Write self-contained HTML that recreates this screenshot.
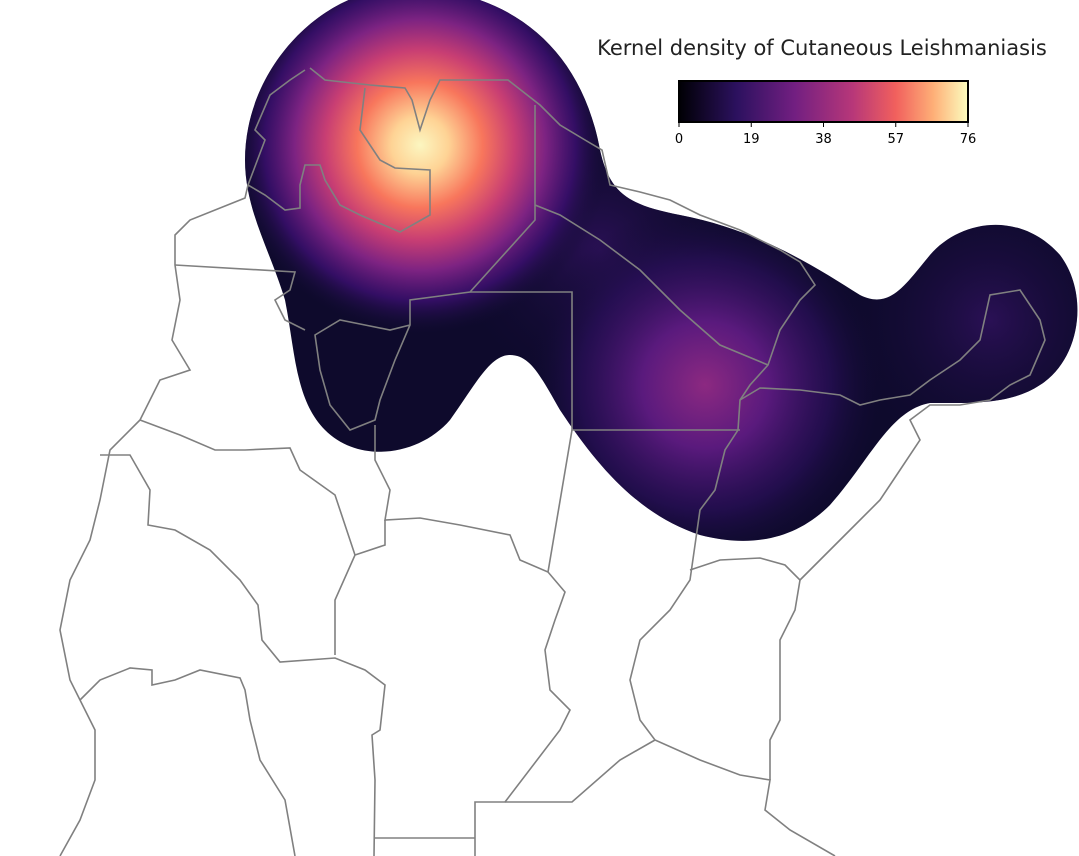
<!DOCTYPE html>
<html><head><meta charset="utf-8"><style>
html,body{margin:0;padding:0;background:#fff;}
svg{display:block;font-family:"DejaVu Sans","Liberation Sans",sans-serif;}
</style></head><body>
<svg id="map" width="1079" height="856" viewBox="0 0 1079 856" xmlns="http://www.w3.org/2000/svg">
<defs>
<linearGradient id="magma" x1="0" x2="1" y1="0" y2="0">
<stop offset="0" stop-color="#000004"/><stop offset="0.2" stop-color="#2c115f"/><stop offset="0.4" stop-color="#721f81"/><stop offset="0.6" stop-color="#b73779"/><stop offset="0.75" stop-color="#f1605d"/><stop offset="0.88" stop-color="#feaf77"/><stop offset="1" stop-color="#fcfdbf"/>
</linearGradient>
<radialGradient id="hot1" cx="0.5" cy="0.5" r="0.5">
<stop offset="0" stop-color="#fcf6c0"/><stop offset="0.15" stop-color="#fed395"/><stop offset="0.33" stop-color="#f8765c"/><stop offset="0.5" stop-color="#c83e73"/><stop offset="0.66" stop-color="#7d2382"/><stop offset="0.82" stop-color="#3a0f6e" stop-opacity="0.85"/><stop offset="1" stop-color="#120d32" stop-opacity="0"/>
</radialGradient>
<radialGradient id="hot2" cx="0.5" cy="0.5" r="0.5">
<stop offset="0" stop-color="#8c2981"/><stop offset="0.35" stop-color="#5a1a7d"/><stop offset="0.7" stop-color="#2a0f5a" stop-opacity="0.7"/><stop offset="1" stop-color="#100b30" stop-opacity="0"/>
</radialGradient>
<radialGradient id="hot3" cx="0.5" cy="0.5" r="0.5">
<stop offset="0" stop-color="#2a1055"/><stop offset="1" stop-color="#100b30" stop-opacity="0"/>
</radialGradient>
<clipPath id="blob"><path id="blobpath" d="M245,160 C245,70 320,-10 400,-12 C500,-14 580,40 600,150 C610,195 630,205 680,215 C760,230 820,270 860,295 C890,310 905,285 930,255 C960,220 1020,210 1060,255 C1090,295 1080,360 1040,385 C1010,405 970,403 930,403 C890,410 870,460 830,505 C795,540 750,548 700,535 C640,515 600,470 560,410 C540,375 530,355 510,355 C490,355 475,385 450,420 C420,455 360,465 325,430 C295,400 295,350 285,300 C270,250 245,210 245,160 Z"/></clipPath>
</defs>
<g clip-path="url(#blob)">
<rect x="0" y="-20" width="1079" height="600" fill="#0e0a2c"/>
<g id="peaks"></g>
</g>
<g id="borders" fill="none" stroke="#808080" stroke-width="1.6">
<polyline points="310,68 325,80 370,85 405,88 412,100 420,130 430,100 440,80 508,80 540,105 560,125 585,140 602,150 610,185 640,192 670,200 700,215 740,230 780,250 800,262 815,285 800,300 780,330 768,365 750,385 740,400 738,430 725,450 715,490 700,510 695,545 690,580 670,610 640,640 630,680 640,720 655,740 700,760 740,775 770,780 765,810 790,830 835,856"/>
<polyline points="305,70 290,80 270,95 255,130 265,140 248,185 245,198 190,220 175,235 175,265 180,300 172,340 190,370 160,380 150,400 140,420 110,450 100,500 90,540 70,580 60,630 70,680 80,700 95,730 95,780 80,820 60,856"/>
<polyline points="535,105 535,220 470,292 440,296 410,300 410,325 395,360 380,400 375,420 350,430 330,405 320,370 315,335 340,320 365,325 390,330 410,325"/>
<polyline points="470,292 572,292 572,430 740,430"/>
<polyline points="535,205 560,215 600,240 640,270 680,310 720,345 768,365"/>
<polyline points="740,400 760,388 800,390 840,395 860,405 880,400 910,395 930,380 960,360 980,340 990,295 1020,290 1040,320 1045,340 1030,375 1010,385 990,400 960,405 930,405 910,420 920,440 900,470 880,500 850,530 820,560 800,580"/>
<polyline points="375,425 375,460 390,490 385,520 420,518 460,525 510,535 520,560 548,572 565,592 555,620 545,650 550,690 570,710 560,730 505,802 475,802 475,856"/>
<polyline points="572,430 548,572"/>
<polyline points="505,802 572,802 620,760 655,740"/>
<polyline points="385,520 385,545 355,555 335,600 335,655"/>
<polyline points="100,455 130,455 150,490 148,525 175,530 210,550 240,580 258,605 262,640 280,662 335,658 365,670 385,685 380,730 372,735 375,780 374,856"/>
<polyline points="374,838 475,838"/>
<polyline points="140,420 180,435 215,450 245,450 290,448 300,470 335,495 355,555"/>
<polyline points="80,700 100,680 130,668 152,670 152,685 175,680 200,670 240,678 245,690 250,720 260,760 285,800 295,856"/>
<polyline points="690,570 720,560 760,558 785,565 800,580 795,610 780,640 780,680 780,720 770,740 770,780"/>
<polyline points="175,265 295,272 290,290 275,300 285,320 305,330"/>
<polyline points="365,88 360,130 380,160 395,168 430,170 430,215 400,232 360,215 340,205 325,180 320,165 305,165 300,185 300,208 285,210 265,195 248,185"/>
</g>
<text x="822" y="55" font-size="21" fill="#222" text-anchor="middle">Kernel density of Cutaneous Leishmaniasis</text>
<rect x="679" y="81" width="289" height="41" fill="url(#magma)" stroke="#000" stroke-width="2"/>
<g id="ticks" font-size="13" fill="#000" text-anchor="middle"></g>
</svg>
<script>
const peakX = [420, 705, 990, 600];
const peakY = [145, 385, 320, 250];
const peakValues = [76, 30, 12, 14];
const tickValues = [0, 19, 38, 57, 76];
const cbMin = 0, cbMax = 76;
const NS = "http://www.w3.org/2000/svg";
const cbX = v => 679 + (v - cbMin) / (cbMax - cbMin) * 289;
const tg = document.getElementById('ticks');
tickValues.forEach(v => {
  const t = document.createElementNS(NS, 'text');
  t.setAttribute('x', cbX(v)); t.setAttribute('y', 143);
  t.textContent = v;
  
  
  tg.appendChild(t);
  const l = document.createElementNS(NS, 'line');
  l.setAttribute('x1', cbX(v)); l.setAttribute('x2', cbX(v));
  l.setAttribute('y1', 122); l.setAttribute('y2', 127);
  l.setAttribute('stroke', '#000');
  
  
  tg.appendChild(l);
});
const pg = document.getElementById('peaks');
const order = peakValues.map((v, i) => i).sort((a, b) => peakValues[a] - peakValues[b]);
order.forEach(i => {
  const v = peakValues[i];
  const e = document.createElementNS(NS, 'ellipse');
  const r = v > 50 ? 190 : (v > 20 ? 180 : 150);
  e.setAttribute('cx', peakX[i]); e.setAttribute('cy', peakY[i]);
  e.setAttribute('rx', r); e.setAttribute('ry', r);
  e.setAttribute('fill', v > 50 ? 'url(#hot1)' : (v > 20 ? 'url(#hot2)' : 'url(#hot3)'));
  
  
  pg.appendChild(e);
});
</script>
</body></html>
